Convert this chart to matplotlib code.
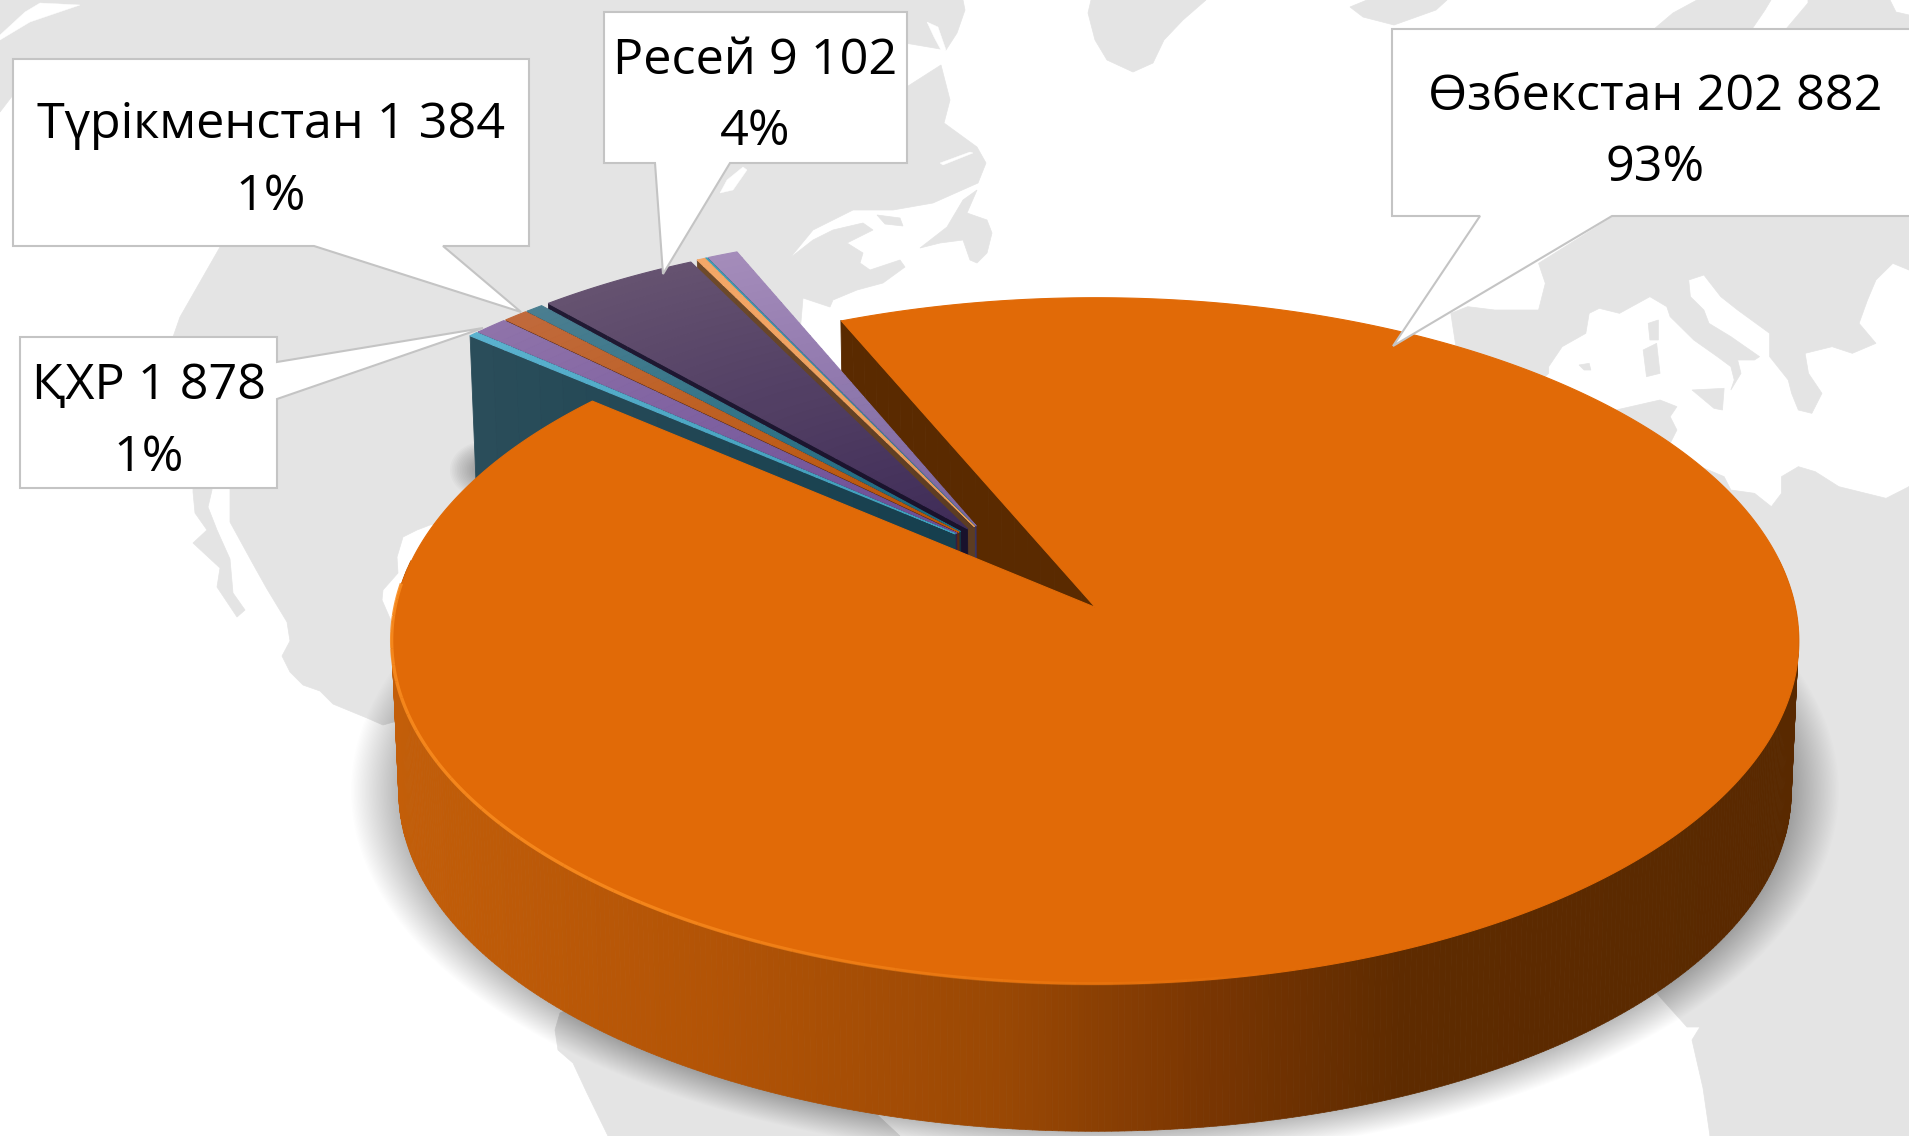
import numpy as np
import matplotlib
matplotlib.use("Agg")
import matplotlib.pyplot as plt
from matplotlib.collections import PolyCollection
from matplotlib.colors import to_rgb
from matplotlib.patches import Polygon

plt.rcParams["font.family"] = ["Open Sans", "Noto Sans", "DejaVu Sans"]

# ── Data ───────────────────────────────────────────────────────────────────────
countries = ["Өзбекстан", "", "ҚХР", "Түрікменстан", "", "Ресей", "", "", ""]
tonnes = [202882, 500, 1878, 1384, 1000, 9102, 450, 120, 1700]

# ── Style ──────────────────────────────────────────────────────────────────────
top_colors = [
    ("#E16A07", "#E16A07"), ("#5BB2CE", "#3E9DBB"), ("#8F73AA", "#6C4D96"),
    ("#C0693B", "#BC5606"), ("#4A7E90", "#1D6A80"), ("#655270", "#3F2C58"),
    ("#F4A868", "#E89A58"), ("#3FA0B8", "#2C6C88"), ("#A48CBA", "#7C66A2"),
]
wall_colors = [
    ("#5A2A00", "#5A2A00"), ("#2A4D5A", "#163F4E"), ("#2F1F4A", "#2F1F4A"),
    ("#5A2A10", "#5A2A10"), ("#1A3C4A", "#123644"), ("#211A33", "#19122C"),
    ("#6E4A2A", "#5C3C22"), ("#30406A", "#30406A"), ("#3C3060", "#3C3060"),
]
LAND = "#E4E4E4"
EDGE = "#C4C4C4"

START_ANGLE = 113.3
CX, CY, EY = 1095, 607, 640     # hub and ellipse centre, pixels
A, B, K = 340, 700, 0.0975      # vertical / horizontal radius, perspective
DEPTH, SQUEEZE = 151, 0.01

# Land outlines of the background map, pixels
america = [(0,0),(963,0),(965,10),(957,33),(946,50),(905,43),(905,88),(941,65),(950,100),(944,123),
           (977,147),(986,163),(978,183),(933,203),(893,210),(853,210),(813,230),(790,258),(813,240),
           (833,230),(863,223),(873,230),(853,240),(847,243),(863,253),(860,263),(870,270),(900,260),
           (905,267),(883,283),(857,290),(833,300),(830,307),(803,298),(790,450),(430,525),(417,530),
           (403,537),(397,557),(398,573),(383,590),(382,600),(392,623),(395,670),(397,721),(383,725),
           (367,718),(333,704),(320,691),(303,685),(290,672),(282,656),(290,641),(287,622),(267,589),
           (253,564),(230,522),(230,470),(212,470),(212,490),(208,507),(217,530),(230,559),(233,593),
           (245,610),(237,617),(217,587),(220,568),(193,543),(207,530),(195,513),(193,492),(193,470),
           (173,337),(180,317),(220,247),(100,200),(13,95),(0,112)]
newfoundland = [(920,248),(947,227),(963,200),(977,190),(967,213),(987,220),(992,233),(987,253),
                (977,263),(970,260),(963,240),(940,243)]
greenland = [(1088,13),(1091,0),(1206,0),(1183,20),(1164,40),(1153,63),(1133,72),(1107,60),(1095,40)]
iceland = [(1350,7),(1367,0),(1447,0),(1436,10),(1394,25),(1363,17)]
north_a = [(1647,35),(1673,13),(1697,0),(1771,0),(1765,10),(1748,35)]
north_b = [(1781,35),(1808,3),(1808,0),(1890,0),(1896,12),(1909,15),(1909,35)]
south_america = [(560,1013),(555,1030),(558,1050),(573,1063),(587,1093),(608,1136),(900,1136),(700,950)]
anticosti = [(877,215),(900,218),(903,226),(885,224)]

# zoomed tracing of Europe and Africa: x = 1380 + u / 2.964, y = 200 + v / 3
europe_uv = [(1568,50),(690,50),(470,190),(490,250),(470,330),(340,330),(260,320),(210,340),(225,440),
             (200,800),(500,520),(500,500),(540,440),(610,400),(620,340),(650,325),(710,340),(800,290),
             (850,320),(860,350),(930,420),(1000,470),(1040,500),(1050,540),(1040,570),(1070,520),
             (1060,480),(1110,480),(1125,470),(1040,410),(975,370),(960,330),(920,290),(915,240),
             (960,225),(1010,290),(1060,330),(1155,400),(1155,470),(1210,540),(1220,580),(1240,630),
             (1280,640),(1310,580),(1270,520),(1260,460),(1340,440),(1400,460),(1470,430),(1420,370),
             (1445,300),(1470,240),(1520,190),(1568,210)]
tunisia_uv = [(700,630),(830,600),(880,620),(860,650),(880,690),(860,730),(600,800)]
africa_uv = [(950,800),(1020,830),(1040,870),(1110,880),(1160,920),(1190,880),(1190,830),(1240,800),
             (1290,815),(1360,860),(1500,895),(1568,860)]
corsica_uv = [(795,370),(825,360),(825,420),(800,420)]
sardinia_uv = [(780,450),(820,430),(830,520),(790,530)]
sicily_uv = [(925,570),(1020,565),(1015,630),(990,625)]
balearic_uv = [(590,495),(620,490),(625,510),(605,510)]
africa_rest = [(1909,1136),(1710,1136),(1703,1088),(1692,1040),(1700,1027),(1687,1027),(1660,997),(1500,800)]

white_cuts = [
    [(0,40),(30,22),(80,5),(40,3),(25,12),(0,35)],
    [(927,22),(938,27),(946,50),(942,52),(934,37)],
    [(720,193),(727,180),(743,167),(747,170),(733,190)],
    [(940,163),(970,152),(973,153),(943,165)],
]


def from_uv(pts):
    return [(1380 + u / 2.964, 200 + v / 3) for u, v in pts]


def project(x, y, z=0.0):
    """Disc coordinates (unit radius) to picture pixels, z=1 is the underside."""
    s = 1 / (1 + K * y)
    px = CX + B * x * s
    py = CY - A * y * s
    px = CX + (px - CX) * (1 - SQUEEZE * z)
    py = EY + (py - EY) * (1 - SQUEEZE * z) + DEPTH * z
    return px, py


def mix(c1, c2, n):
    c1, c2 = np.array(to_rgb(c1)), np.array(to_rgb(c2))
    return [tuple(c1 + (c2 - c1) * f) for f in np.linspace(0, 1, n)]


def draw_top(ax, a1, a2, dx, dy, colors, zorder):
    # radial bands so the gradient runs from rim to hub, one piece if the colour is flat
    n = 1 if colors[0] == colors[1] else 40
    rr = np.linspace(1, 0, n + 1)
    tt = np.radians(np.linspace(a1, a2, 600 if n == 1 else 40))
    polys = []
    for r0, r1 in zip(rr[:-1], rr[1:]):
        ox = np.r_[r0 * np.cos(tt), r1 * np.cos(tt[::-1])] + dx
        oy = np.r_[r0 * np.sin(tt), r1 * np.sin(tt[::-1])] + dy
        polys.append(np.c_[project(ox, oy)])
    cols = mix(colors[0], colors[1], n)
    ax.add_collection(PolyCollection(polys, facecolors=cols, edgecolors=cols, lw=0.8, zorder=zorder))


def draw_wall(ax, a, dx, dy, colors, zorder):
    # radial face along the edge at angle a
    n = 20
    rr = np.linspace(1, 0, n + 1)
    c, s = np.cos(np.radians(a)), np.sin(np.radians(a))
    polys = []
    for r0, r1 in zip(rr[:-1], rr[1:]):
        p = [project(r0 * c + dx, r0 * s + dy), project(r1 * c + dx, r1 * s + dy),
             project(r1 * c + dx, r1 * s + dy, 1), project(r0 * c + dx, r0 * s + dy, 1)]
        polys.append(p)
    cols = mix(colors[0], colors[1], n)
    ax.add_collection(PolyCollection(polys, facecolors=cols, edgecolors=cols, lw=0.6, zorder=zorder))


# ── Figure setup ───────────────────────────────────────────────────────────────
fig = plt.figure(figsize=(19.09, 11.36), dpi=100)
ax = fig.add_axes([0, 0, 1, 1])
ax.set_xlim(0, 1909)
ax.set_ylim(1136, 0)
ax.axis("off")

# ── Background map ─────────────────────────────────────────────────────────────
africa = from_uv(africa_uv) + africa_rest
lands = [america, newfoundland, greenland, iceland, north_a, north_b, south_america, anticosti,
         from_uv(europe_uv) + [(1909, 270), (1909, 215)], from_uv(tunisia_uv), africa,
         from_uv(corsica_uv), from_uv(sardinia_uv), from_uv(sicily_uv), from_uv(balearic_uv)]
for pts in lands:
    ax.add_patch(Polygon(pts, closed=True, fc=LAND, ec=LAND, lw=0.5, zorder=1))
ax.add_patch(Polygon(from_uv(africa_uv)[-1:] + [(1909, 487), (1909, 1136), (1710, 1136)],
                     closed=True, fc=LAND, ec=LAND, lw=0.5, zorder=1))
for pts in white_cuts:
    ax.add_patch(Polygon(pts, closed=True, fc="white", ec="white", lw=0.3, zorder=1.5))

# ── Shadows ────────────────────────────────────────────────────────────────────
t = np.linspace(0, 2 * np.pi, 300)
for d in np.linspace(48, 0, 36):
    ax.fill(CX + (696 + d) * np.cos(t), EY + DEPTH + (340 + 0.6 * d) * np.sin(t),
            color="black", alpha=0.0095, lw=0, zorder=2)
for r in np.linspace(36, 4, 20):
    ax.fill(486 + r * np.cos(t), 470 + 0.8 * r * np.sin(t),
            color="black", alpha=0.02, lw=0, zorder=2)

# ── Slices ─────────────────────────────────────────────────────────────────────
shares = np.array(tonnes) / sum(tonnes)
edges = START_ANGLE - np.r_[0, np.cumsum(shares)] * 360     # clockwise from the big slice

# cut face of the big slice sits behind the pulled out slices
draw_wall(ax, edges[0], 0, 0, wall_colors[0], 2.9)

# the small slices sit pulled out of the pie, fanning slightly
gap_mid = (edges[1] + edges[-1]) / 2
for i in range(len(tonnes) - 1, 0, -1):
    mid = (edges[i] + edges[i + 1]) / 2
    direction = np.radians(129 + 0.3 * (mid - gap_mid))
    dx, dy = 0.30 * np.cos(direction), 0.30 * np.sin(direction)
    zo = 3 + (len(tonnes) - i) * 0.1
    draw_wall(ax, edges[i], dx, dy, wall_colors[i], zo)
    draw_top(ax, edges[i], edges[i + 1], dx, dy, top_colors[i], zo + 0.05)

# big slice: curved side, top
side_t = np.linspace(np.radians(172), np.radians(368), 400)
side_x = np.cos(side_t)
side_y = np.sin(side_t)
stops_x = [392, 700, 1000, 1200, 1400, 1800]
stops_c = np.array([to_rgb(c) for c in ("#C35E09", "#B35406", "#9A4804", "#7A3602", "#5E2B00", "#592900")])
polys, cols = [], []
for j in range(len(side_t) - 1):
    a = project(side_x[j], side_y[j])
    b = project(side_x[j + 1], side_y[j + 1])
    c = project(side_x[j + 1], side_y[j + 1], 1)
    d = project(side_x[j], side_y[j], 1)
    polys.append([a, b, c, d])
    cols.append(tuple(np.interp(a[0], stops_x, stops_c[:, k]) for k in range(3)))
ax.add_collection(PolyCollection(polys, facecolors=cols, edgecolors=cols, lw=0.5, zorder=4.1))

draw_top(ax, edges[0], edges[1], 0, 0, top_colors[0], 4.2)

# light rim along the front left, fading out towards the right
rim_edges = np.linspace(176, 285, 41)
for k, (r0, r1) in enumerate(zip(rim_edges[:-1], rim_edges[1:])):
    rim_t = np.radians(np.linspace(r0, r1, 12))
    rim_x, rim_y = project(np.cos(rim_t), np.sin(rim_t))
    fade = min(1.0, (40 - k) / 20)
    ax.plot(rim_x, rim_y, color="#F88A1E", lw=2.4, alpha=0.9 * fade, zorder=4.3, solid_capstyle="butt")

# ── Callouts ───────────────────────────────────────────────────────────────────
callouts = [
    (0, [(1392,29),(1925,29),(1925,216),(1612,216),(1393,346),(1480,216),(1392,216)], 1655, (110,181)),
    (5, [(604,12),(907,12),(907,163),(730,163),(663,274),(655,163),(604,163)], 755, (74,145)),
    (3, [(13,59),(529,59),(529,246),(443,246),(521,312),(314,246),(13,246)], 271, (138,210)),
    (2, [(20,337),(277,337),(277,362),(483,328),(277,399),(277,488),(20,488)], 149, (399,471)),
]
for idx, outline, tx, (y1, y2) in callouts:
    ax.add_patch(Polygon(outline, closed=True, fc="white", ec=EDGE, lw=1.5, zorder=6))
    amount = f"{tonnes[idx]:,}".replace(",", " ")
    ax.text(tx, y1, f"{countries[idx]} {amount}", fontsize=36.3, ha="center", va="baseline",
            color="black", zorder=7)
    ax.text(tx, y2, f"{shares[idx] * 100:.0f}%", fontsize=36.3, ha="center", va="baseline",
            color="black", zorder=7)

fig.savefig("out.png", dpi=100)
